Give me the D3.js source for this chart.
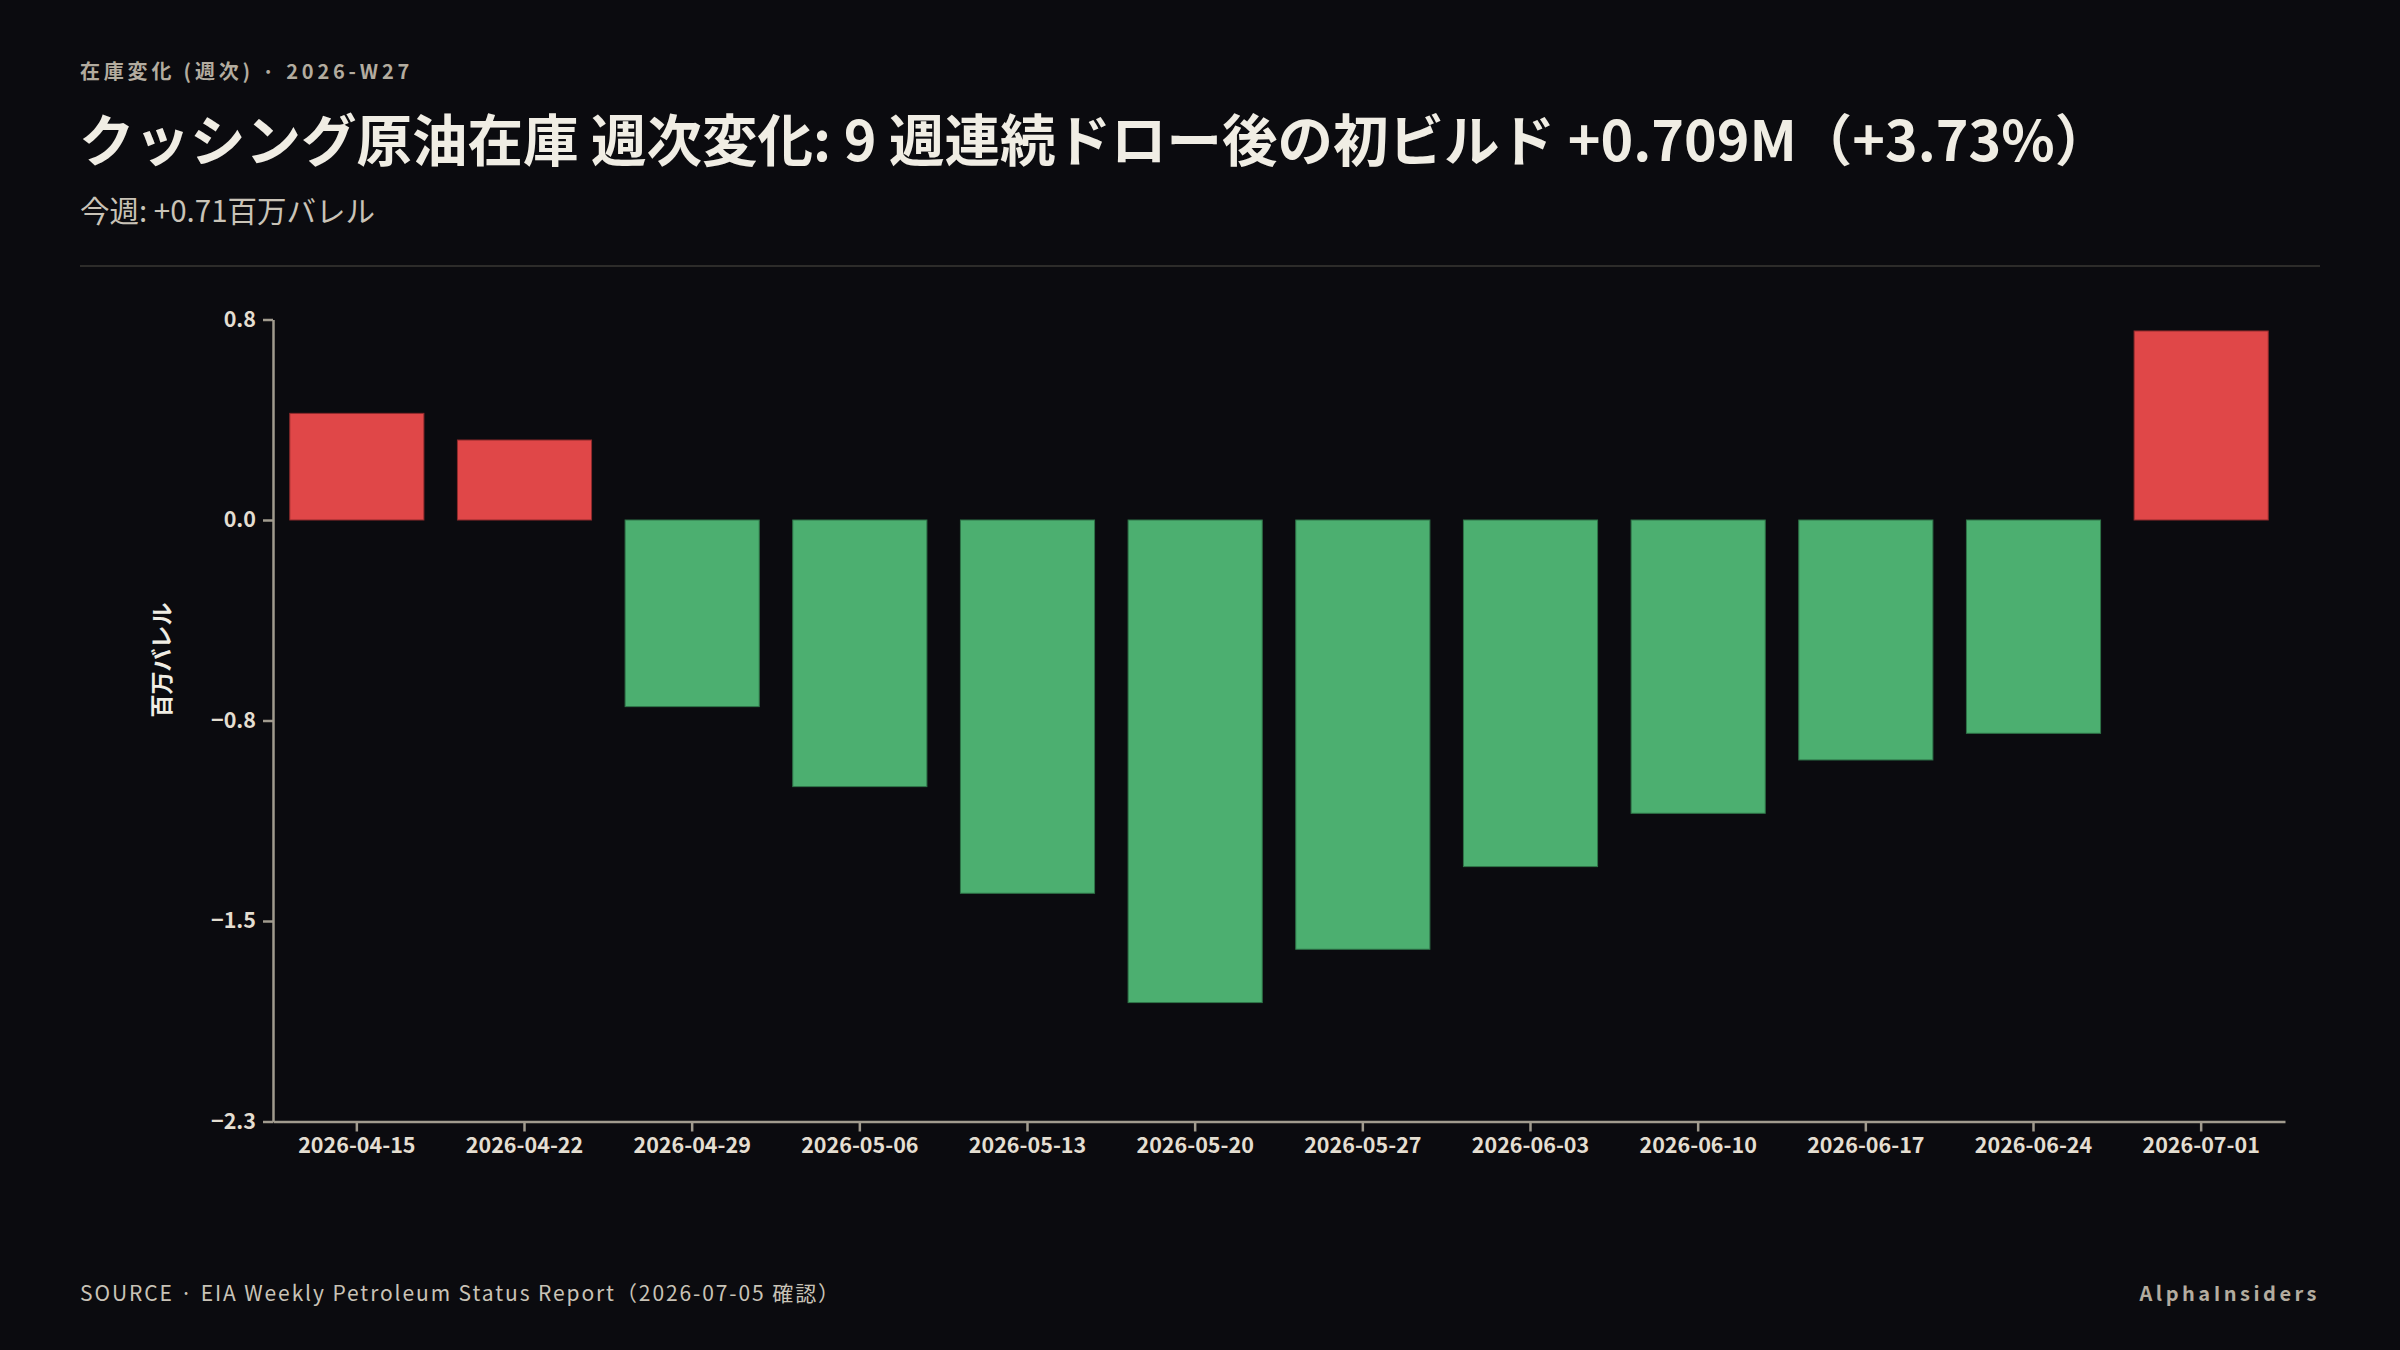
<!DOCTYPE html>
<html>
<head>
<meta charset="utf-8">
<script src="https://cdn.jsdelivr.net/npm/d3@7/dist/d3.min.js"></script>
<style>
  html, body { margin: 0; padding: 0; background: #0b0b0f; }
  svg text { font-family: "Noto Sans CJK JP", "Noto Sans", sans-serif; }
  .axis path, .axis line { stroke: #a19b8e; stroke-width: 2.5; }
  .axis text { fill: #e4ded1; font-size: 21.5px; font-weight: 700; }
</style>
</head>
<body>
<div id="chart"></div>
<script>
// weekly change in Cushing crude stocks, million barrels
const weeks = ['2026-04-15', '2026-04-22', '2026-04-29', '2026-05-06', '2026-05-13', '2026-05-20',
    '2026-05-27', '2026-06-03', '2026-06-10', '2026-06-17', '2026-06-24', '2026-07-01'];
const changes = [0.40, 0.30, -0.70, -1.00, -1.40, -1.81, -1.61, -1.30, -1.10, -0.90, -0.80, 0.709];
const yTicks = [0.752, 0, -0.752, -1.504, -2.256];

const width = 2400, height = 1350;
const margin = { top: 319.5, right: 115, bottom: 228.5, left: 273 };
const innerW = width - margin.left - margin.right;
const innerH = height - margin.top - margin.bottom;

let svg = d3.select('#chart').append('svg')
    .attr('width', width)
    .attr('height', height)
    .style('background', '#0b0b0f');

// header
svg.append('text')
    .attr('x', 80).attr('y', 79)
    .attr('fill', '#b3ac9f')
    .style('font-size', '20px')
    .style('font-weight', 700)
    .style('letter-spacing', '3.8px')
    .text('在庫変化 (週次) · 2026-W27');

svg.append('text')
    .attr('x', 79).attr('y', 161)
    .attr('fill', '#f0ede4')
    .style('font-size', '55.5px')
    .style('font-weight', 700)
    .text('クッシング原油在庫 週次変化: 9 週連続ドロー後の初ビルド +0.709M（+3.73%）');

svg.append('text')
    .attr('x', 80).attr('y', 222)
    .attr('fill', '#c9c3b7')
    .style('font-size', '29.5px')
    .text('今週: +0.71百万バレル');

svg.append('line')
    .attr('x1', 80).attr('x2', 2320)
    .attr('y1', 266).attr('y2', 266)
    .attr('stroke', '#3a3934')
    .attr('stroke-width', 1.5);

let g = svg.append('g')
    .attr('transform', `translate(${margin.left},${margin.top})`);

let x = d3.scaleBand()
    .domain(weeks)
    .range([0, innerW])
    .paddingInner(0.2)
    .paddingOuter(0.1);

let y = d3.scaleLinear()
    .domain([yTicks[yTicks.length - 1], yTicks[0]])
    .range([innerH, 0]);

// bars
g.selectAll('.bar')
    .data(weeks.map((w, i) => ({ week: w, value: changes[i] })))
    .enter()
    .append('rect')
    .attr('class', 'bar')
    .attr('x', d => x(d.week))
    .attr('width', x.bandwidth())
    .attr('y', d => y(Math.max(0, d.value)))
    .attr('height', d => Math.abs(y(d.value) - y(0)))
    .attr('fill', d => d.value >= 0 ? '#e04748' : '#4caf70')
    .attr('stroke', d => d.value >= 0 ? '#8f2a2c' : '#2f7448')
    .attr('stroke-width', 1);

// axes
g.append('g')
    .attr('class', 'axis')
    .call(d3.axisLeft(y)
        .tickValues(yTicks)
        .tickFormat(d3.format('.1f'))
        .tickSize(10)
        .tickSizeOuter(0)
        .tickPadding(7));

g.append('g')
    .attr('class', 'axis')
    .attr('transform', `translate(0,${innerH})`)
    .call(d3.axisBottom(x)
        .tickSize(10)
        .tickSizeOuter(0)
        .tickPadding(6));

svg.append('text')
    .attr('transform', 'translate(170,660) rotate(-90)')
    .attr('text-anchor', 'middle')
    .attr('fill', '#f0ede4')
    .style('font-size', '23px')
    .style('font-weight', 700)
    .text('百万バレル');

// footer
svg.append('text')
    .attr('x', 80).attr('y', 1301)
    .attr('fill', '#c9c3b7')
    .style('font-size', '21px')
    .style('letter-spacing', '1.9px')
    .text('SOURCE · EIA Weekly Petroleum Status Report（2026-07-05 確認）');

svg.append('text')
    .attr('x', 2320).attr('y', 1301)
    .attr('text-anchor', 'end')
    .attr('fill', '#b3ac9f')
    .style('font-size', '20px')
    .style('font-weight', 700)
    .style('letter-spacing', '3.5px')
    .text('AlphaInsiders');
</script>
</body>
</html>
